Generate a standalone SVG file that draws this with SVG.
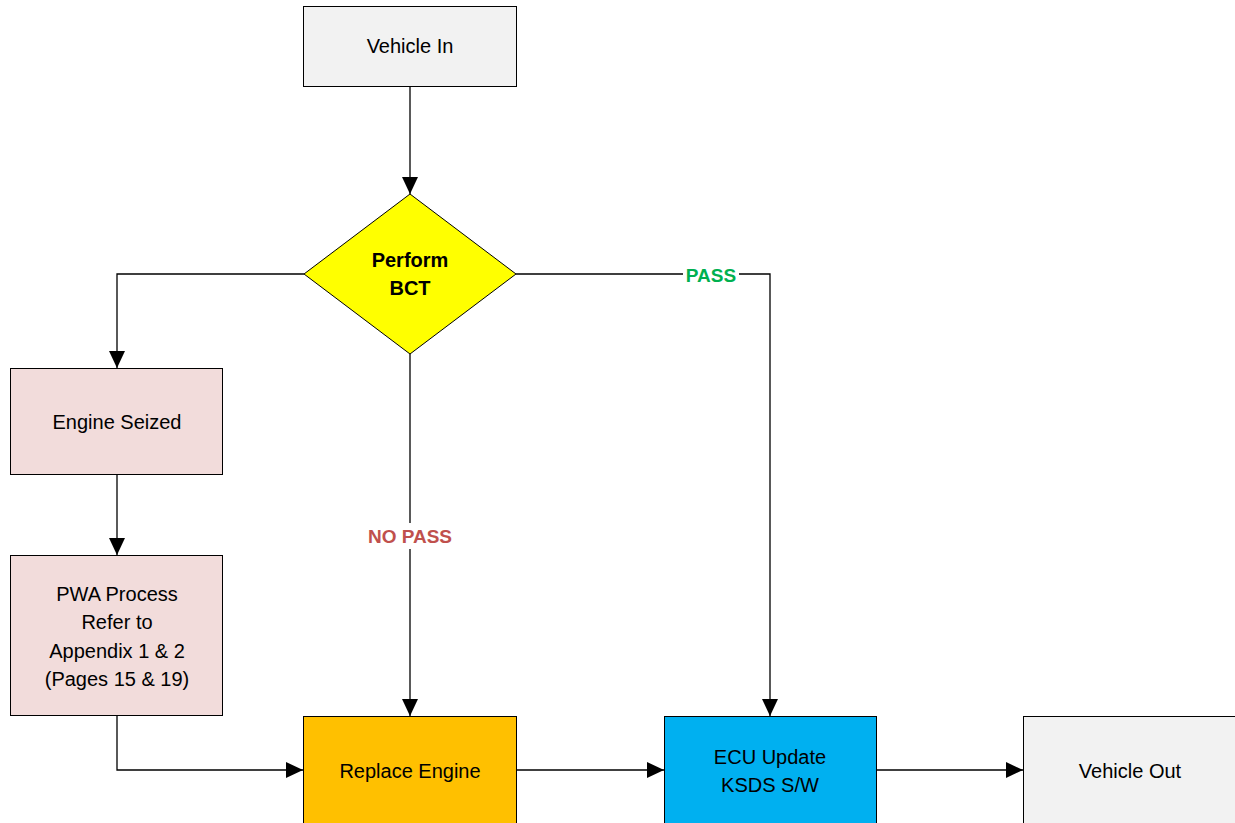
<svg xmlns="http://www.w3.org/2000/svg" width="1235" height="823" viewBox="0 0 1235 823">
<defs>
<marker id="arr" markerWidth="17" markerHeight="16" refX="17" refY="8" orient="auto" markerUnits="userSpaceOnUse">
<path d="M0,0 L17,8 L0,16 Z" fill="#000"/>
</marker>
<style>
.box{stroke:#000;stroke-width:1}
.t{font-family:"Liberation Sans",Arial,sans-serif;font-size:20px;fill:#000;text-anchor:middle;dominant-baseline:central}
.b{font-weight:bold}
.c{fill:none;stroke:#000;stroke-width:1.3}
.lbl{font-family:"Liberation Sans",Arial,sans-serif;font-size:19px;font-weight:bold;text-anchor:middle;dominant-baseline:central}
</style>
</defs>
<rect width="1235" height="823" fill="#fff"/>
<g id="connectors">
<path class="c" d="M410,87 V194" marker-end="url(#arr)"/>
<path class="c" d="M304,274 H117 V368" marker-end="url(#arr)"/>
<path class="c" d="M117,475 V555" marker-end="url(#arr)"/>
<path class="c" d="M117,716 V770 H303" marker-end="url(#arr)"/>
<path class="c" d="M410,354 V716" marker-end="url(#arr)"/>
<path class="c" d="M516,274 H770 V716" marker-end="url(#arr)"/>
<path class="c" d="M517,770 H664" marker-end="url(#arr)"/>
<path class="c" d="M877,770 H1023" marker-end="url(#arr)"/>
<rect x="362" y="523" width="96" height="26" fill="#fff"/>
<text class="lbl" x="410" y="536" fill="#c0504d">NO PASS</text>
<rect x="683" y="262" width="56" height="26" fill="#fff"/>
<text class="lbl" x="711" y="275" fill="#00b050">PASS</text>
</g>
<g id="vehicle-in">
<rect class="box" x="303.5" y="6.5" width="213" height="80" fill="#f2f2f2"/>
<text class="t" x="410" y="46">Vehicle In</text>
</g>
<g id="perform-bct">
<polygon class="box" points="410,194 516,274 410,354 304,274" fill="#ffff00"/>
<text class="t b" x="410" y="260">Perform</text>
<text class="t b" x="410" y="288">BCT</text>
</g>
<g id="engine-seized">
<rect class="box" x="10.5" y="368.5" width="212" height="106" fill="#f2dcdb"/>
<text class="t" x="117" y="422">Engine Seized</text>
</g>
<g id="pwa-process">
<rect class="box" x="10.5" y="555.5" width="212" height="160" fill="#f2dcdb"/>
<text class="t" x="117" y="594">PWA Process</text>
<text class="t" x="117" y="622">Refer to</text>
<text class="t" x="117" y="651">Appendix 1 &amp; 2</text>
<text class="t" x="117" y="679">(Pages 15 &amp; 19)</text>
</g>
<g id="replace-engine">
<rect class="box" x="303.5" y="716.5" width="213" height="120" fill="#ffc000"/>
<text class="t" x="410" y="771">Replace Engine</text>
</g>
<g id="ecu-update">
<rect class="box" x="664.5" y="716.5" width="212" height="120" fill="#00b0f0"/>
<text class="t" x="770" y="757">ECU Update</text>
<text class="t" x="770" y="785">KSDS S/W</text>
</g>
<g id="vehicle-out">
<rect class="box" x="1023.5" y="716.5" width="230" height="120" fill="#f2f2f2"/>
<text class="t" x="1130" y="771">Vehicle Out</text>
</g>
</svg>
